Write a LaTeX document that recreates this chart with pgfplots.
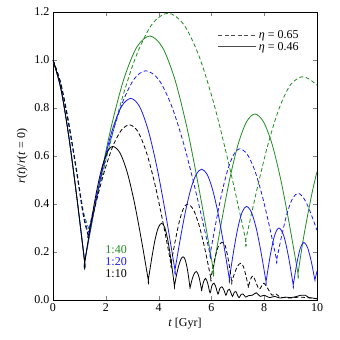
\documentclass[border=0pt]{standalone}
\usepackage{fontspec}
\setmainfont{Liberation Serif}
\usepackage{pgfplots}
\pgfplotsset{compat=1.18}
\definecolor{mgreen}{rgb}{0.13,0.55,0.13}
\definecolor{mblue}{rgb}{0.1,0.1,1}
\begin{document}
\begin{tikzpicture}[font=\fontsize{12}{14}\selectfont]
\begin{axis}[
  name=ax,
  scale only axis,
  width=264pt, height=288pt,
  xmin=0, xmax=10, ymin=0, ymax=1.2,
  xtick={0,2,4,6,8,10},
  ytick={0,0.2,0.4,0.6,0.8,1.0,1.2},
  tick align=inside, tick pos=both,
  major tick length=4pt,
  /pgf/number format/assume math mode=true,
  yticklabel style={/pgf/number format/fixed, /pgf/number format/fixed zerofill, /pgf/number format/precision=1},
  xlabel={\textit{t} [Gyr]},
  ylabel={\textit{r}(\textit{t})/\textit{r}(\textit{t} = 0)},
  legend style={at={(0.95,0.95)}, anchor=north east, draw=none, fill=none, row sep=-2pt},
  legend cell align=left,
  legend image code/.code={\draw[#1] (0pt,0pt) -- (38pt,0pt);},
  every axis plot/.append style={line width=0.8pt, smooth, tension=0.5},
]
\addlegendimage{black!70, dash pattern=on 4pt off 2.5pt}
\addlegendentry{\textit{η} = 0.65}
\addlegendimage{black!70}
\addlegendentry{\textit{η} = 0.46}

% minima are listed twice so that smoothing keeps the cusps sharp
% 1:40, eta=0.65
\addplot[mgreen, dash pattern=on 4pt off 2.5pt, forget plot] coordinates {
(0,1) (0.3,0.9) (0.6,0.74) (0.9,0.54) (1.15,0.37) (1.38,0.29) (1.38,0.29)
(1.976,0.570) (2.572,0.822) (3.168,1.022) (3.764,1.151) (4.36,1.195)
(4.948,1.149) (5.536,1.015) (6.124,0.806) (6.712,0.542) (7.3,0.25) (7.3,0.25)
(7.724,0.460) (8.148,0.650) (8.572,0.800) (8.996,0.897) (9.42,0.93)
(9.71,0.92) (10,0.895)
};
% 1:40, eta=0.46
\addplot[mgreen, forget plot] coordinates {
(0,1) (0.3,0.88) (0.6,0.68) (0.9,0.43) (1.2,0.16) (1.2,0.16)
(1.694,0.450) (2.188,0.713) (2.682,0.920) (3.176,1.054) (3.67,1.10)
(4.15,1.052) (4.63,0.914) (5.11,0.700) (5.59,0.428) (6.07,0.128) (6.07,0.128)
(6.386,0.328) (6.702,0.508) (7.018,0.651) (7.334,0.743) (7.65,0.775)
(7.976,0.742) (8.302,0.648) (8.628,0.501) (8.954,0.315) (9.28,0.11) (9.28,0.11)
(9.46,0.24) (9.64,0.35) (9.82,0.45) (10,0.535)
};
% 1:20, eta=0.65
\addplot[mblue, dash pattern=on 4pt off 2.5pt, forget plot] coordinates {
(0,1) (0.3,0.9) (0.6,0.73) (0.9,0.53) (1.15,0.36) (1.33,0.28) (1.33,0.28)
(1.768,0.489) (2.206,0.677) (2.644,0.826) (3.082,0.922) (3.52,0.955)
(4.006,0.918) (4.492,0.809) (4.978,0.640) (5.464,0.426) (5.95,0.19) (5.95,0.19)
(6.176,0.326) (6.402,0.449) (6.628,0.546) (6.854,0.608) (7.08,0.63)
(7.358,0.607) (7.636,0.542) (7.914,0.439) (8.192,0.310) (8.47,0.167) (8.47,0.167)
(8.6725,0.273) (8.875,0.364) (9.0775,0.424) (9.28,0.445)
(9.46,0.43) (9.64,0.395) (9.82,0.345) (10,0.29)
};
% 1:20, eta=0.46
\addplot[mblue, forget plot] coordinates {
(0,1) (0.3,0.88) (0.6,0.68) (0.9,0.43) (1.2,0.16) (1.2,0.16)
(1.55,0.370) (1.90,0.560) (2.25,0.710) (2.60,0.807) (2.95,0.84)
(3.284,0.805) (3.618,0.703) (3.952,0.545) (4.286,0.346) (4.62,0.125) (4.62,0.125)
(4.822,0.255) (5.024,0.372) (5.226,0.465) (5.428,0.524) (5.63,0.545)
(5.84,0.523) (6.05,0.458) (6.26,0.357) (6.47,0.229) (6.68,0.088) (6.68,0.088)
(6.8425,0.204) (7.005,0.302) (7.1675,0.367) (7.33,0.39)
(7.515,0.366) (7.70,0.298) (7.885,0.196) (8.07,0.076) (8.07,0.076)
(8.233,0.188) (8.397,0.270) (8.56,0.30)
(8.74,0.268) (8.92,0.181) (9.1,0.062) (9.1,0.062)
(9.233,0.151) (9.367,0.216) (9.5,0.24)
(9.64,0.219) (9.78,0.162) (9.92,0.083) (9.92,0.083) (10,0.12)
};
% 1:10, eta=0.65
\addplot[black, dash pattern=on 4pt off 2.5pt, forget plot] coordinates {
(0,1) (0.3,0.9) (0.6,0.73) (0.9,0.53) (1.15,0.35) (1.33,0.27) (1.33,0.27)
(1.644,0.412) (1.958,0.540) (2.272,0.642) (2.586,0.707) (2.9,0.73)
(3.214,0.702) (3.528,0.619) (3.842,0.491) (4.156,0.329) (4.47,0.15) (4.47,0.15)
(4.63,0.246) (4.785,0.327) (4.94,0.381) (5.1,0.40)
(5.32,0.376) (5.54,0.309) (5.76,0.209) (5.98,0.09) (5.98,0.09)
(6.115,0.165) (6.25,0.22) (6.39,0.24)
(6.52,0.227) (6.645,0.165) (6.77,0.075) (6.77,0.075)
(6.885,0.114) (7.0,0.143) (7.12,0.153)
(7.21,0.14) (7.3,0.105) (7.4,0.055) (7.4,0.055)
(7.49,0.088) (7.58,0.10) (7.7,0.07) (7.82,0.045) (7.98,0.07) (8.15,0.045)
(8.3,0.02) (8.45,0.025) (8.6,0.012) (8.8,0.01) (9.0,0.008) (9.3,0.012)
(9.6,0.01) (10,0.005)
};
% 1:10, eta=0.46
\addplot[black, forget plot] coordinates {
(0,1) (0.3,0.88) (0.6,0.68) (0.9,0.43) (1.2,0.155) (1.2,0.155)
(1.414,0.305) (1.628,0.440) (1.842,0.547) (2.056,0.616) (2.27,0.64)
(2.538,0.613) (2.806,0.534) (3.074,0.411) (3.342,0.255) (3.61,0.083) (3.61,0.083)
(3.74,0.174) (3.865,0.251) (3.99,0.302) (4.12,0.32)
(4.24,0.300) (4.36,0.243) (4.48,0.158) (4.6,0.058) (4.6,0.058)
(4.68,0.105) (4.765,0.144) (4.85,0.171) (4.93,0.18)
(5.0,0.17) (5.07,0.14) (5.13,0.1) (5.19,0.05) (5.19,0.05)
(5.28,0.09) (5.36,0.112) (5.44,0.118)
(5.52,0.1) (5.58,0.07) (5.63,0.04) (5.63,0.04)
(5.7,0.075) (5.78,0.09) (5.86,0.07) (5.95,0.03) (6.02,0.06) (6.1,0.07)
(6.18,0.05) (6.25,0.025) (6.32,0.048) (6.4,0.055) (6.48,0.04) (6.55,0.02)
(6.62,0.04) (6.68,0.045) (6.74,0.03) (6.8,0.015) (6.87,0.033) (6.93,0.035)
(6.99,0.02) (7.05,0.01) (7.13,0.024) (7.2,0.025) (7.3,0.012) (7.4,0.018)
(7.55,0.02) (7.7,0.03) (7.85,0.015) (8.0,0.02) (8.2,0.01) (8.4,0.015)
(8.6,0.008) (8.8,0.012) (9.0,0.01) (9.2,0.014) (9.4,0.02) (9.55,0.02)
(9.7,0.01) (9.85,0.008) (10,0.005)
};

\node[anchor=west, text=mgreen, inner sep=0pt] at (axis cs:1.98,0.21) {1:40};
\node[anchor=west, text=mblue, inner sep=0pt] at (axis cs:1.98,0.16) {1:20};
\node[anchor=west, text=black, inner sep=0pt] at (axis cs:1.98,0.11) {1:10};
\end{axis}
\path (ax.south west) ++(-53pt,-40pt) rectangle ++(340pt,340pt);
\end{tikzpicture}
\end{document}
